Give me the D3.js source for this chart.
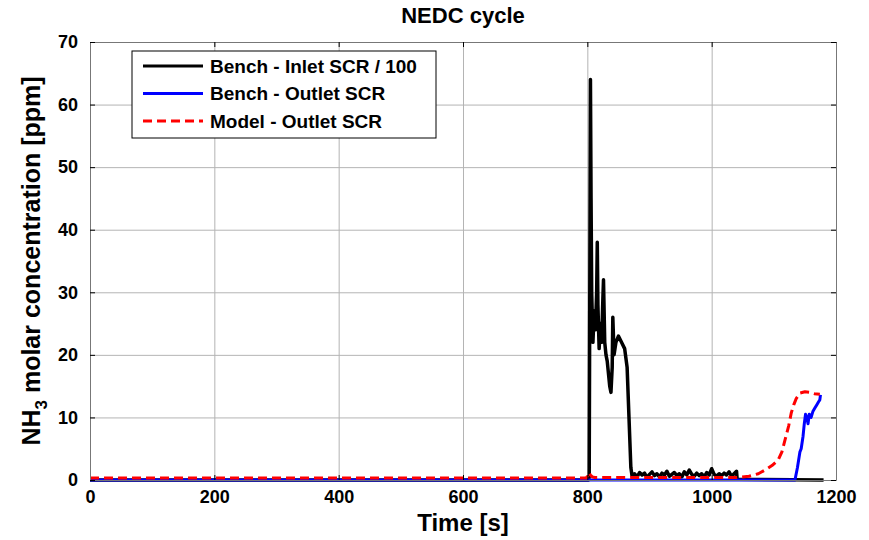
<!DOCTYPE html>
<html>
<head>
<meta charset="utf-8">
<script src="https://cdn.jsdelivr.net/npm/d3@7"></script>
<style>
  body { margin: 0; background: #fff; }
  text { font-family: Arial, "Liberation Sans", sans-serif; font-weight: bold; }
</style>
</head>
<body>
<div id="paper"></div>
<script>
// data

const xTicks = [0, 200, 400, 600, 800, 1000, 1200]
const yTicks = [0, 10, 20, 30, 40, 50, 60, 70]

// bench inlet / 100
const inletTime = [0, 802, 803, 805, 806, 807, 809, 811, 813, 815, 816, 817, 819, 821, 823, 825, 826, 828, 830, 832, 834, 836, 838, 840, 841, 843, 846, 850, 855, 860, 864, 867, 870, 872,
  876, 880, 884, 888, 892, 896, 900, 904, 908, 912, 916, 920, 924, 928, 932, 936, 940, 944, 948, 952, 956, 960, 964, 968, 972, 976, 980, 984, 988, 992, 996, 1000, 1004, 1008, 1012, 1016, 1020, 1024, 1028, 1032, 1036, 1040, 1041, 1180]
const inletVal = [0, 0, 0.5, 64, 45, 30, 22, 27, 24, 30, 38, 28, 21, 25, 22, 29, 32, 22, 20, 19, 17, 15, 14, 18, 26, 20, 22, 23, 22, 21, 18, 10, 2, 0.6,
  1.0, 0.5, 1.2, 0.8, 1.1, 0.4, 0.9, 1.3, 0.7, 1.0, 0.5, 1.1, 0.8, 1.4, 0.6, 0.9, 1.2, 0.7, 1.0, 0.5, 1.3, 0.8, 1.6, 0.9, 0.6, 1.1, 0.7, 1.0, 0.5, 1.2, 0.8, 1.8, 0.9, 0.6, 1.0, 0.7, 1.1, 0.8, 1.3, 0.6, 1.0, 1.4, 0.1, 0]

// bench outlet
const outletTime = [0, 1134, 1138, 1142, 1144, 1147, 1149, 1151, 1153, 1155, 1157, 1160, 1163, 1166, 1169, 1172, 1174, 1175]
const outletVal = [0, 0, 2, 4.5, 5, 7, 9, 10.5, 10, 9, 10.5, 10, 11, 11.5, 12, 12.5, 12.8, 13.6]

// model outlet
const modelTime = [0, 798, 800, 802, 805, 808, 812, 820, 840, 880, 900, 1000, 1040, 1060, 1075, 1086, 1097, 1107, 1113, 1118, 1124, 1128, 1132, 1136, 1142, 1150, 1158, 1165, 1174]
const modelVal = [0.3, 0.3, 0.6, 1.2, 0.8, 0.5, 0.4, 0.4, 0.4, 0.4, 0.4, 0.4, 0.4, 0.6, 1.0, 1.6, 2.3, 3.2, 4.5, 6.4, 8.7, 10.7, 12.0, 13.0, 13.9, 14.1, 14.0, 13.8, 13.7]

const legendLabels = ['Bench - Inlet SCR / 100', 'Bench - Outlet SCR', 'Model - Outlet SCR']

// svg

const W = 869, H = 540
const mLeft = 90, mRight = 836, mTop = 42, mBottom = 480

const svg = d3.select('#paper')
  .append('svg')
  .attr('id', 'canvas')
  .attr('width', W)
  .attr('height', H)

const x = d3.scaleLinear().domain([0, 1200]).range([mLeft, mRight])
const y = d3.scaleLinear().domain([0, 70]).range([mBottom, mTop])

// grid

svg.append('g')
  .attr('transform', `translate(0,${mBottom})`)
  .call(d3.axisBottom(x).tickValues(xTicks).tickSize(-(mBottom - mTop)).tickFormat(''))
  .call(g => g.select('.domain').remove())
  .selectAll('line').attr('stroke', '#b4b4b4')

svg.append('g')
  .attr('transform', `translate(${mLeft},0)`)
  .call(d3.axisLeft(y).tickValues(yTicks).tickSize(-(mRight - mLeft)).tickFormat(''))
  .call(g => g.select('.domain').remove())
  .selectAll('line').attr('stroke', '#b4b4b4')

// lines

const line = d3.line().x(d => x(d[0])).y(d => y(d[1]))

function series(t, v, color, width, dash) {
  svg.append('path')
    .datum(t.map((d, i) => [d, v[i]]))
    .attr('d', line)
    .attr('fill', 'none')
    .attr('stroke', color)
    .attr('stroke-width', width)
    .attr('stroke-linejoin', 'round')
    .attr('stroke-dasharray', dash)
}

series(inletTime, inletVal, '#000', 3.5, null)
series(outletTime, outletVal, '#0000ff', 3, null)
series(modelTime, modelVal, '#ff0000', 3, '9,5')

// axes box with inward ticks

function styleAxis(g) {
  g.select('.domain').attr('stroke', '#777')
  g.selectAll('.tick line').attr('stroke', '#000')
  g.selectAll('.tick text')
    .attr('font-size', '18px')
    .attr('font-family', 'Arial, "Liberation Sans", sans-serif')
    .attr('font-weight', 'bold')
    .attr('fill', '#000')
}

const fmt = d3.format('d')

svg.append('g')
  .attr('transform', `translate(0,${mBottom})`)
  .call(d3.axisBottom(x).tickValues(xTicks).tickFormat(fmt).tickSizeInner(-5).tickSizeOuter(0).tickPadding(10))
  .call(styleAxis)

svg.append('g')
  .attr('transform', `translate(0,${mTop})`)
  .call(d3.axisTop(x).tickValues(xTicks).tickSizeInner(-5).tickSizeOuter(0).tickFormat(''))
  .call(styleAxis)

svg.append('g')
  .attr('transform', `translate(${mLeft},0)`)
  .call(d3.axisLeft(y).tickValues(yTicks).tickFormat(fmt).tickSizeInner(-5).tickSizeOuter(0).tickPadding(12))
  .call(styleAxis)

svg.append('g')
  .attr('transform', `translate(${mRight},0)`)
  .call(d3.axisRight(y).tickValues(yTicks).tickSizeInner(-5).tickSizeOuter(0).tickFormat(''))
  .call(styleAxis)

// titles

svg.append('text')
  .attr('x', (mLeft + mRight) / 2)
  .attr('y', 23)
  .attr('text-anchor', 'middle')
  .attr('font-size', '22px')
  .text('NEDC cycle')

svg.append('text')
  .attr('x', (mLeft + mRight) / 2)
  .attr('y', 531)
  .attr('text-anchor', 'middle')
  .attr('font-size', '24px')
  .text('Time [s]')

const ylab = svg.append('text')
  .attr('transform', `translate(40,${(mTop + mBottom) / 2}) rotate(-90)`)
  .attr('text-anchor', 'middle')
  .attr('font-size', '25px')
ylab.append('tspan').text('NH')
ylab.append('tspan').attr('font-size', '17px').attr('dy', 7).text('3')
ylab.append('tspan').attr('dy', -7).text(' molar concentration [ppm]')

// legend

const legStyle = [['#000', null], ['#0000ff', null], ['#ff0000', '9,5']]
const lg = svg.append('g')

lg.append('rect')
  .attr('x', 132).attr('y', 51)
  .attr('width', 304).attr('height', 87)
  .attr('fill', '#fff')
  .attr('stroke', '#000')
  .attr('stroke-width', 1)

lg.selectAll('line')
  .data(legendLabels)
  .join('line')
  .attr('x1', 143).attr('x2', 203)
  .attr('y1', (d, i) => 66 + i * 27.5)
  .attr('y2', (d, i) => 66 + i * 27.5)
  .attr('stroke', (d, i) => legStyle[i][0])
  .attr('stroke-width', 3)
  .attr('stroke-dasharray', (d, i) => legStyle[i][1])

lg.selectAll('text')
  .data(legendLabels)
  .join('text')
  .attr('x', 210)
  .attr('y', (d, i) => 66 + i * 27.5)
  .attr('dominant-baseline', 'central')
  .attr('font-size', '19px')
  .text(d => d)
</script>
</body>
</html>
